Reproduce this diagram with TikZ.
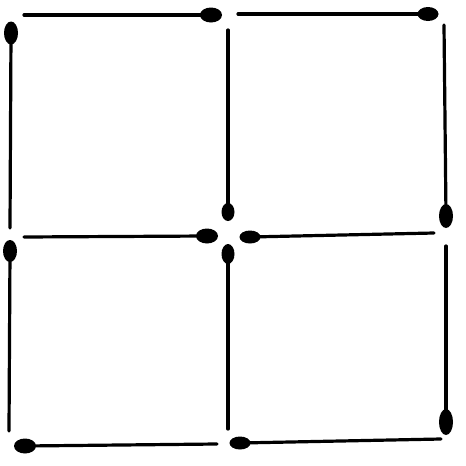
\documentclass[tikz,border=0pt]{standalone}
\tikzset{
  stick/.style={line width=3.2pt, line cap=round, black},
  matchhead/.style={fill=black}
}
\newcommand{\mtch}[5]{%
  \draw[stick] (#1) -- (#2);
  \fill[matchhead, rotate around={#3:(#2)}] (#2) ellipse [x radius=#4, y radius=#5];
}
\begin{document}
\begin{tikzpicture}[x=1pt,y=-1pt]
\useasboundingbox (0,0) rectangle (466,466);
% top row
\mtch{24,15}{211,15}{0}{11}{7.5}
\mtch{238,14}{428,14}{0}{10.5}{7}
% upper verticals
\mtch{10,228}{11,33}{90}{11.5}{7}
\mtch{228,30}{228,212}{90}{9}{6.5}
\mtch{444,25}{446,216}{90}{12}{7}
% middle row
\mtch{24,237}{207,236}{0}{11}{7.5}
\mtch{434,233}{250,237}{0}{10.5}{6.5}
% lower verticals
\mtch{9,431}{10,251}{90}{11}{7}
\mtch{228,429}{228,254}{90}{10}{6.5}
\mtch{446,246}{446,422}{90}{13}{7}
% bottom row
\mtch{217,444}{25,446}{0}{11}{7.5}
\mtch{441,439}{240,443}{0}{10.5}{6.5}
\end{tikzpicture}
\end{document}
